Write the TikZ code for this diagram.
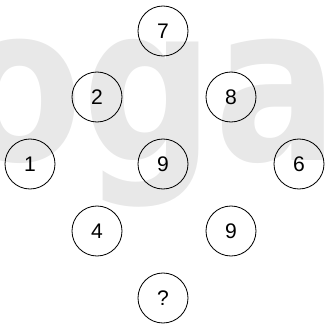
\documentclass[tikz,border=0pt]{standalone}
\usepackage{fontspec}
\setmainfont{Liberation Sans}
\newfontfamily\markfont{DejaVu Sans}
\usepackage{tikz}

\begin{document}
\begin{tikzpicture}[
    x=0.03cm,
    y=-0.03cm,
    cell/.style={
        draw,
        circle,
        line width=0.7pt,
        minimum size=1.5cm,
        inner sep=0pt,
        font=\fontsize{18}{20}\selectfont
    },
    watermark/.style={
        text=black!9,
        font=\markfont\bfseries\fontsize{185}{185}\selectfont,
        xscale=0.85,
        inner sep=0pt
    }
]

\useasboundingbox (0,0) rectangle (325,324);

\begin{scope}
\clip (0,0) rectangle (325,324);
\node[watermark, anchor=base west] (mark) at (-44,160) {oga};
\end{scope}


\node[cell] (top)    at (163,31)  {7};
\node[cell] (upl)    at (97,97)   {2};
\node[cell] (upr)    at (231,97)  {8};
\node[cell] (left)   at (30,164)  {1};
\node[cell] (mid)    at (163,164) {9};
\node[cell] (right)  at (299,164) {6};
\node[cell] (lowl)   at (97,231)  {4};
\node[cell] (lowr)   at (231,231) {9};
\node[cell] (bottom) at (163,298) {?};

\end{tikzpicture}
\end{document}
